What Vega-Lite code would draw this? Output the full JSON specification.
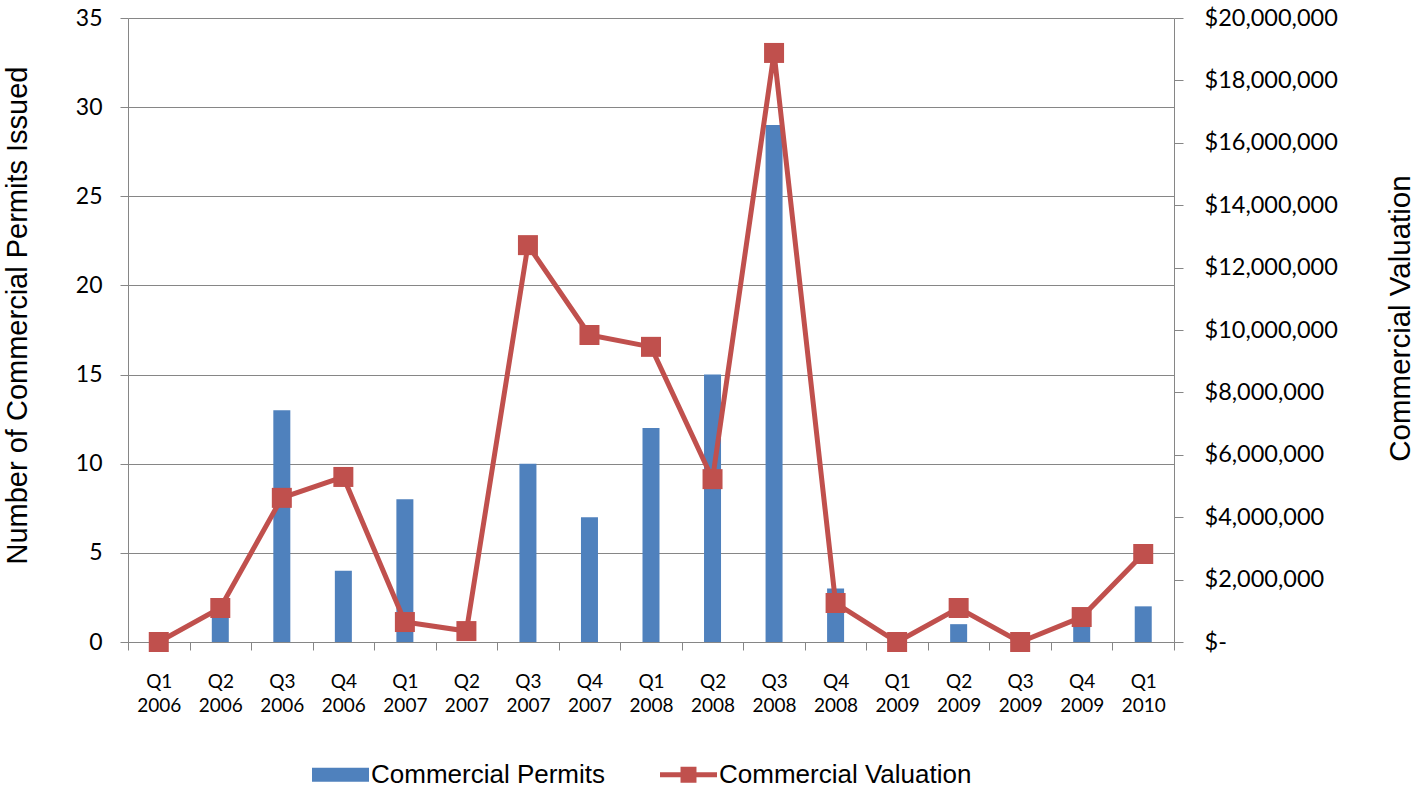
{
  "$schema": "https://vega.github.io/schema/vega-lite/v6.json",
  "width": 1046,
  "height": 624,
  "autosize": "none",
  "padding": {"left": 128, "top": 18, "right": 244, "bottom": 147},
  "background": "white",
  "config": {
    "view": {"stroke": null},
    "axis": {
      "domainColor": "#868686",
      "tickColor": "#868686",
      "gridColor": "#868686",
      "labelColor": "#000000",
      "titleColor": "#000000",
      "labelFont": "Lato",
      "titleFont": "Liberation Sans",
      "titleFontWeight": "normal"
    }
  },
  "data": {
    "values": [
      {"quarter": "Q1 2006", "permits": 0, "valuation": 0},
      {"quarter": "Q2 2006", "permits": 2, "valuation": 1090000},
      {"quarter": "Q3 2006", "permits": 13, "valuation": 4620000},
      {"quarter": "Q4 2006", "permits": 4, "valuation": 5290000},
      {"quarter": "Q1 2007", "permits": 8, "valuation": 640000},
      {"quarter": "Q2 2007", "permits": 0, "valuation": 350000},
      {"quarter": "Q3 2007", "permits": 10, "valuation": 12720000},
      {"quarter": "Q4 2007", "permits": 7, "valuation": 9840000},
      {"quarter": "Q1 2008", "permits": 12, "valuation": 9460000},
      {"quarter": "Q2 2008", "permits": 15, "valuation": 5220000},
      {"quarter": "Q3 2008", "permits": 29, "valuation": 18880000},
      {"quarter": "Q4 2008", "permits": 3, "valuation": 1250000},
      {"quarter": "Q1 2009", "permits": 0, "valuation": 0},
      {"quarter": "Q2 2009", "permits": 1, "valuation": 1090000},
      {"quarter": "Q3 2009", "permits": 0, "valuation": 0},
      {"quarter": "Q4 2009", "permits": 1, "valuation": 800000},
      {"quarter": "Q1 2010", "permits": 2, "valuation": 2820000}
    ]
  },
  "encoding": {
    "x": {
      "field": "quarter",
      "type": "ordinal",
      "sort": null,
      "scale": {"paddingInner": 0, "paddingOuter": 0},
      "axis": {
        "title": null,
        "labelAngle": 0,
        "labelExpr": "isString(datum.value) ? split(datum.value, ' ') : ''",
        "labelFontSize": 19,
        "labelLineHeight": 24,
        "labelPadding": 22,
        "tickBand": "extent",
        "tickSize": 8,
        "domainWidth": 1
      }
    }
  },
  "layer": [
    {
      "mark": {"type": "bar", "size": 17, "color": "#4F81BD"},
      "encoding": {
        "y": {
          "field": "permits",
          "type": "quantitative",
          "scale": {"domain": [0, 35]},
          "axis": {
            "title": "Number of Commercial Permits Issued",
            "titleFontSize": 29,
            "titlePadding": 43,
            "titleY": 297,
            "values": [0, 5, 10, 15, 20, 25, 30, 35],
            "grid": true,
            "labelFontSize": 23,
            "labelPadding": 18,
            "tickSize": 8
          }
        }
      }
    },
    {
      "layer": [
        {
          "mark": {"type": "line", "color": "#C0504D", "strokeWidth": 5},
          "encoding": {
            "y": {
              "field": "valuation",
              "type": "quantitative",
              "scale": {"domain": [0, 20000000]},
              "axis": {
                "orient": "right",
                "title": "Commercial Valuation",
                "titleFontSize": 29.5,
                "titleAngle": -90,
                "titlePadding": 78,
                "titleY": 300,
                "grid": false,
                "values": [0, 2000000, 4000000, 6000000, 8000000, 10000000, 12000000, 14000000, 16000000, 18000000, 20000000],
                "labelExpr": "datum.value == 0 ? '$-' : '$' + format(datum.value, ',')",
                "labelFontSize": 23.5,
                "labelPadding": 21,
                "tickSize": 9
              }
            }
          }
        },
        {
          "mark": {"type": "point", "shape": "square", "filled": true, "size": 400, "color": "#C0504D", "opacity": 1},
          "encoding": {
            "y": {"field": "valuation", "type": "quantitative"}
          }
        }
      ]
    },
    {
      "data": {"values": [{"series": "Commercial Permits"}, {"series": "Commercial Valuation"}]},
      "transform": [{"filter": {"field": "series", "equal": "none"}}],
      "mark": {"type": "point", "filled": true, "opacity": 1},
      "encoding": {
        "x": {"value": 0},
        "color": {
          "field": "series",
          "type": "nominal",
          "scale": {"domain": ["Commercial Permits", "Commercial Valuation"], "range": ["#4F81BD", "#C0504D"]},
          "legend": {
            "title": null,
            "orient": "none",
            "direction": "horizontal",
            "legendX": 184,
            "legendY": 728,
            "padding": 0,
            "symbolSize": 3249,
            "symbolOpacity": 1,
            "symbolStrokeWidth": 0,
            "labelFont": "Liberation Sans",
            "labelFontSize": 26,
            "labelColor": "#000000",
            "labelLimit": 600,
            "labelOffset": 2,
            "columnPadding": 54
          }
        },
        "shape": {
          "field": "series",
          "type": "nominal",
          "scale": {
            "domain": ["Commercial Permits", "Commercial Valuation"],
            "range": [
              "M-1,-0.245H1V0.245H-1Z",
              "M-1,-0.09H-0.28V-0.28H0.28V-0.09H1V0.09H0.28V0.28H-0.28V0.09H-1Z"
            ]
          }
        }
      }
    }
  ],
  "resolve": {"scale": {"y": "independent"}}
}
